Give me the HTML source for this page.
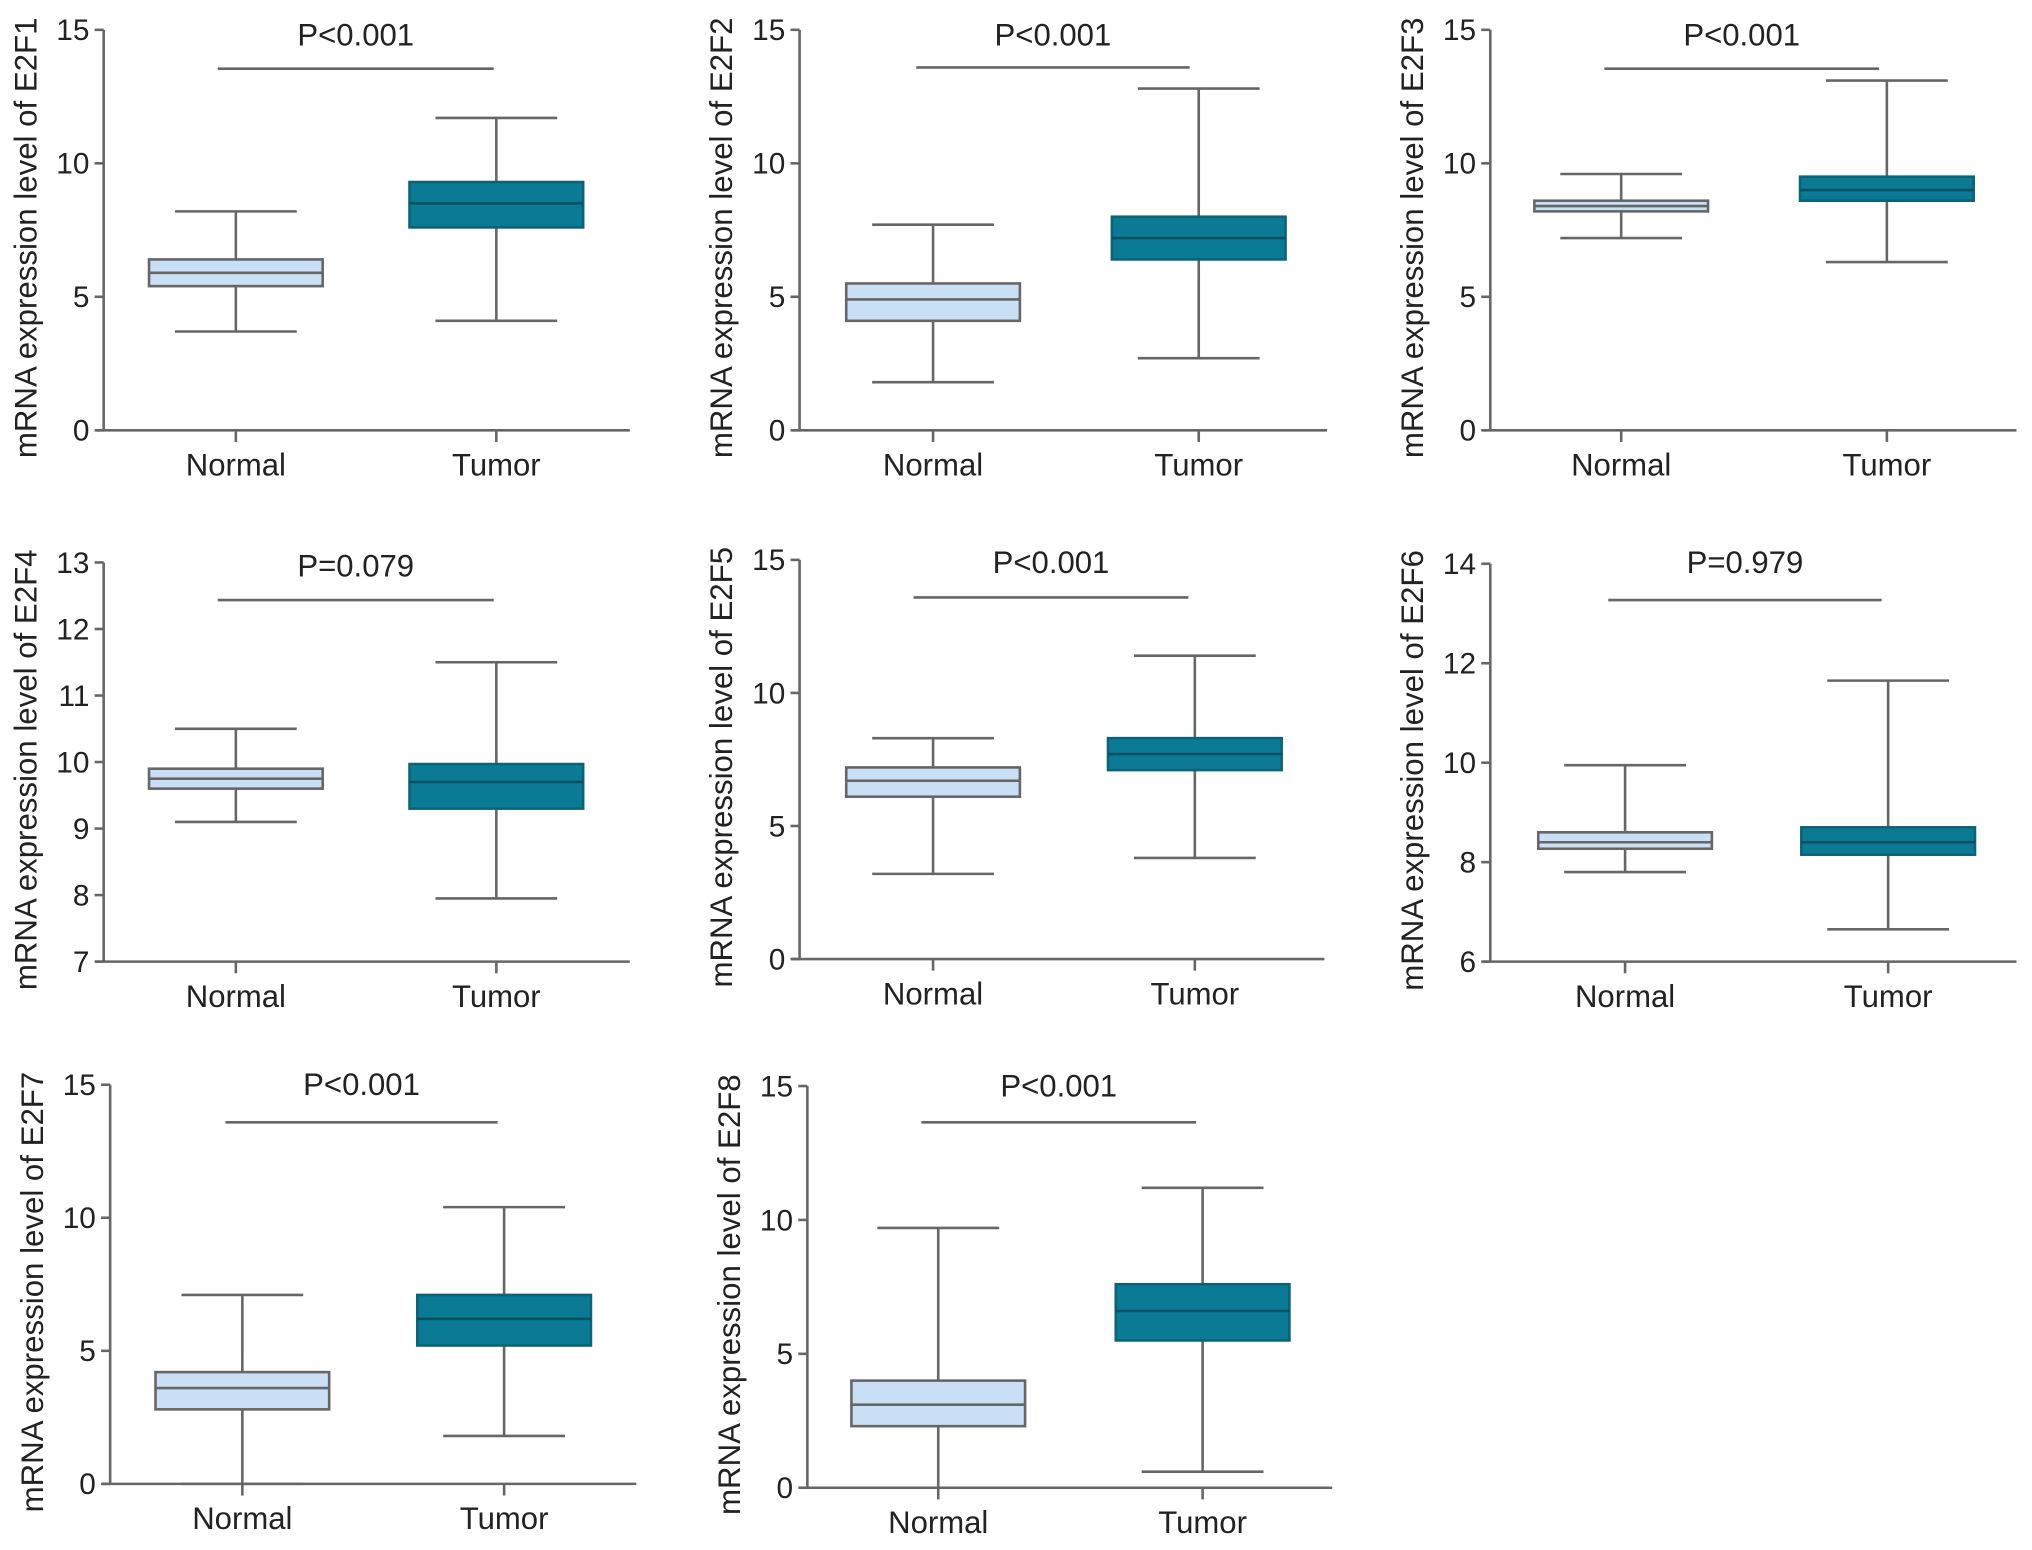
<!DOCTYPE html>
<html><head><meta charset="utf-8"><style>
html,body{margin:0;padding:0;background:#fff}
svg{display:block}
text{font-family:"Liberation Sans",sans-serif;fill:#222}
</style></head><body>
<svg id="chart" width="2032" height="1550" viewBox="0 0 1568 1196" xmlns="http://www.w3.org/2000/svg"></svg>
<script>
const genes = ["E2F1","E2F2","E2F3","E2F4","E2F5","E2F6","E2F7","E2F8"];
const pLabels = ["P<0.001","P<0.001","P<0.001","P=0.079","P<0.001","P=0.979","P<0.001","P<0.001"];
const yMins = [0,0,0,7,0,6,0,0];
const yMaxs = [15,15,15,13,15,14,15,15];
const yTicks = [[0,5,10,15],[0,5,10,15],[0,5,10,15],[7,8,9,10,11,12,13],[0,5,10,15],[6,8,10,12,14],[0,5,10,15],[0,5,10,15]];
const groups = ["Normal","Tumor"];
// [min, q1, median, q3, max]
const normalStats = [[3.7,5.4,5.9,6.4,8.2],[1.8,4.1,4.9,5.5,7.7],[7.2,8.2,8.4,8.6,9.6],[9.1,9.6,9.75,9.9,10.5],[3.2,6.1,6.7,7.2,8.3],[7.8,8.27,8.4,8.6,9.95],[0,2.8,3.6,4.2,7.1],[0,2.3,3.1,4.0,9.7]];
const tumorStats = [[4.1,7.6,8.5,9.3,11.7],[2.7,6.4,7.2,8.0,12.8],[6.3,8.6,9.0,9.5,13.1],[7.95,9.3,9.7,9.97,11.5],[3.8,7.1,7.7,8.3,11.4],[6.65,8.15,8.4,8.7,11.65],[1.8,5.2,6.2,7.1,10.4],[0.6,5.5,6.6,7.6,11.2]];

const layout = [
 {ax:80, top:23, bot:332, right:486, xs:[182,383], br:[168,381], by:53, pt:35},
 {ax:617, top:23, bot:332, right:1024, xs:[720,925], br:[707,918], by:52, pt:35},
 {ax:1150, top:23, bot:332, right:1556, xs:[1251,1456], br:[1238,1450], by:53, pt:35},
 {ax:80, top:434, bot:742, right:486, xs:[182,383], br:[168,381], by:463, pt:445},
 {ax:617, top:432, bot:740, right:1022, xs:[720,922], br:[705,917], by:461, pt:442},
 {ax:1150, top:435, bot:742, right:1556, xs:[1254,1457], br:[1241,1452], by:463, pt:442},
 {ax:85, top:837, bot:1145, right:491, xs:[187,389], br:[174,384], by:866, pt:845},
 {ax:623, top:838, bot:1148, right:1028, xs:[724,928], br:[711,923], by:866, pt:846}
];
const svg = document.getElementById('chart');
const NS = "http://www.w3.org/2000/svg";
function mk(tag, attrs, parent){const e=document.createElementNS(NS,tag);for(const k in attrs)e.setAttribute(k,attrs[k]);parent.appendChild(e);return e;}
const AX="#666";
genes.forEach((g,i)=>{
  const L = layout[i];
  const y = v => L.bot - (v - yMins[i])/(yMaxs[i]-yMins[i])*(L.bot-L.top);
  const grp = mk('g',{},svg);
  
  
  const yax = mk('line',{x1:L.ax,y1:L.top,x2:L.ax,y2:L.bot,stroke:AX,'stroke-width':2},grp);
  
  
  const xax = mk('line',{x1:L.ax-6,y1:L.bot,x2:L.right,y2:L.bot,stroke:AX,'stroke-width':2},grp);
  
  
  yTicks[i].forEach(t=>{
    mk('line',{x1:L.ax-7,y1:y(t),x2:L.ax,y2:y(t),stroke:AX,'stroke-width':2},grp);
    const tl = mk('text',{x:L.ax-11,y:y(t)+8,'text-anchor':'end','font-size':23},grp);
    tl.textContent=t;
    
    
  });
  const yt = mk('text',{transform:`translate(${L.ax-52},${(L.top+L.bot)/2+6}) rotate(-90)`,'text-anchor':'middle','font-size':24,textLength:340,lengthAdjust:'spacingAndGlyphs'},grp);
  yt.textContent='mRNA expression level of '+g;
  
  
  const br = mk('line',{x1:L.br[0],y1:L.by,x2:L.br[1],y2:L.by,stroke:AX,'stroke-width':2},grp);
  
  
  const pt = mk('text',{x:(L.br[0]+L.br[1])/2,y:L.pt,'text-anchor':'middle','font-size':24},grp);
  pt.textContent=pLabels[i];
  
  
  [normalStats[i],tumorStats[i]].forEach((s,j)=>{
    const cx=L.xs[j];
    mk('line',{x1:cx,y1:L.bot,x2:cx,y2:L.bot+9,stroke:AX,'stroke-width':2},grp);
    const xl = mk('text',{x:cx,y:L.bot+35,'text-anchor':'middle','font-size':24},grp);
    xl.textContent=groups[j];
    
    
    const bg = mk('g',{},grp);
    
    
    mk('line',{x1:cx,y1:y(s[0]),x2:cx,y2:y(s[4]),stroke:AX,'stroke-width':2},bg);
    mk('line',{x1:cx-47,y1:y(s[0]),x2:cx+47,y2:y(s[0]),stroke:AX,'stroke-width':2},bg);
    mk('line',{x1:cx-47,y1:y(s[4]),x2:cx+47,y2:y(s[4]),stroke:AX,'stroke-width':2},bg);
    const dark=j===1;
    mk('rect',{x:cx-67,y:y(s[3]),width:134,height:y(s[1])-y(s[3]),fill:dark?'#0b7a94':'#c9dff5',stroke:dark?'#0b6378':'#666','stroke-width':2},bg);
    mk('line',{x1:cx-67,y1:y(s[2]),x2:cx+67,y2:y(s[2]),stroke:dark?'#0a4f60':'#666','stroke-width':2},bg);
  });
});
</script>
</body></html>
